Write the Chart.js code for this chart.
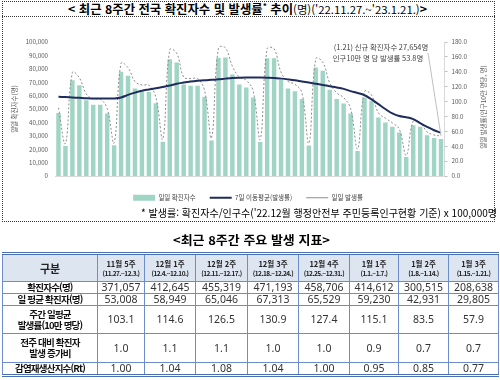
<!DOCTYPE html>
<html lang="ko">
<head>
<meta charset="utf-8">
<script src="https://cdn.jsdelivr.net/npm/chart.js@4.4.0/dist/chart.umd.min.js"></script>
<style>
  body { margin:0; width:500px; height:380px; background:#fff; position:relative; overflow:hidden;
         font-family:"Noto Sans CJK KR", "Noto Sans", sans-serif; color:#000; }
  #marco { position:absolute; left:2px; top:1px; width:491px; height:219px; border:1px dotted #333; }
  #separador { position:absolute; left:2px; top:16px; width:493px; border-top:1px dotted #333; }
  .ajustable { position:absolute; white-space:nowrap; transform-origin:0 0; }
  #titulo { top:1px; font-size:12px; line-height:15px; font-weight:bold; }
  #titulo .fino { font-weight:normal; font-size:11px; }
  #titulo sup { font-size:8px; vertical-align:5px; line-height:0; }
  #contenedor { position:absolute; left:3px; top:17px; width:490px; height:194px; }
  #nota { top:206px; font-size:10.5px; line-height:14px; }
  #tituloTabla { top:232px; font-size:12px; line-height:16px; font-weight:bold; }
  #tabla { position:absolute; left:2px; top:252px; width:496px; border-collapse:collapse; table-layout:fixed;
           border-top:3px double #4a6fb5; border-bottom:3px double #4a6fb5; }
  #tabla td { border:1px solid #6d8ccb; padding:0; text-align:center; vertical-align:middle;
              font-family:"Noto Sans", sans-serif; font-size:10.5px; color:#333; line-height:11px; white-space:nowrap; }
  #tabla td.rotulo { font-family:"Noto Sans CJK KR", sans-serif; font-weight:bold; color:#111; font-size:9.5px; letter-spacing:-0.8px; }
  #tabla tr.cabecera td { background:#dde5f0; font-family:"Noto Sans CJK KR", sans-serif; font-weight:bold; color:#222; }
  #tabla tr.cabecera td .semana { font-size:7.5px; line-height:10px; display:block; }
  #tabla tr.cabecera td .periodo { font-size:6.5px; line-height:9px; display:block; letter-spacing:-0.5px; }
  #tabla tr.cabecera td.rotulo { font-size:11px; letter-spacing:0; }
  #tabla tr:nth-child(1) { height:28px; }
  #tabla tr:nth-child(2) { height:11px; }
  #tabla tr:nth-child(3) { height:12px; }
  #tabla tr:nth-child(4) { height:28px; }
  #tabla tr:nth-child(5) { height:29px; }
  #tabla tr:nth-child(6) { height:13px; }
</style>
</head>
<body>
<div id="marco"></div>
<div id="separador"></div>
<div id="titulo" class="ajustable">&lt; 최근 8주간 전국 확진자수 및 발생률<sup>*</sup> 추이<span class="fino">(명)('22.11.27.~'23.1.21.)</span>&gt;</div>
<div id="contenedor"><canvas id="grafico" width="490" height="194"></canvas></div>
<div id="nota" class="ajustable">* 발생률: 확진자수/인구수('22.12월 행정안전부 주민등록인구현황 기준) x 100,000명</div>
<div id="tituloTabla" class="ajustable">&lt;최근 8주간 주요 발생 지표&gt;</div>
<table id="tabla">
  <colgroup>
    <col style="width:95px"><col style="width:47px"><col style="width:51px"><col style="width:52px">
    <col style="width:51px"><col style="width:51px"><col style="width:49px"><col style="width:50px"><col style="width:50px">
  </colgroup>
  <tbody id="cuerpoTabla"></tbody>
</table>
<script>
// datos del gráfico (11/27 ~ 1/21)
const fechas = ["11/27","11/28","11/29","11/30","12/1","12/2","12/3","12/4","12/5","12/6","12/7","12/8","12/9","12/10",
  "12/11","12/12","12/13","12/14","12/15","12/16","12/17","12/18","12/19","12/20","12/21","12/22","12/23","12/24",
  "12/25","12/26","12/27","12/28","12/29","12/30","12/31","1/1","1/2","1/3","1/4","1/5","1/6","1/7",
  "1/8","1/9","1/10","1/11","1/12","1/13","1/14","1/15","1/16","1/17","1/18","1/19","1/20","1/21"];
const etiquetasEje = ["11/27","12/2","12/7","12/12","12/17","12/22","12/27","1/1","1/6","1/11","1/16","1/21"];

const casosDiarios = [47100, 22400, 71500, 67800, 56600, 53100, 53100,
  46600, 22900, 77800, 74800, 65300, 62800, 62700,
  54300, 25600, 87200, 84700, 68300, 67300, 67300,
  59100, 26400, 88300, 88500, 75800, 68300, 66100,
  58500, 25400, 87800, 87800, 71600, 65300, 63300,
  57400, 22700, 81000, 78600, 64300, 57400, 54100,
  46600, 18700, 58400, 55900, 43600, 39900, 36700,
  32400, 14200, 37900, 36700, 30500, 28300, 27654];

const mediaMovil = [106.4, 106.0, 105.5, 105.0, 104.5, 104.2, 104.0,
  104.0, 104.1, 105.5, 109.0, 112.0, 114.5, 116.3,
  118.0, 119.5, 121.5, 124.0, 125.5, 126.8, 127.8,
  128.6, 129.2, 129.8, 130.8, 131.6, 132.0, 132.2,
  132.2, 132.2, 132.0, 131.6, 130.8, 129.8, 128.6,
  127.0, 125.5, 124.0, 122.3, 120.6, 119.0, 117.0,
  114.0, 111.5, 108.5, 103.0, 96.5, 90.0, 84.0,
  80.5, 79.0, 76.5, 71.0, 66.0, 61.5, 58.0];

const tasaDiaria = [91.6, 43.6, 139.1, 131.9, 110.1, 103.3, 103.3,
  90.7, 44.6, 151.4, 145.5, 127.0, 122.2, 122.0,
  105.6, 49.8, 169.6, 164.8, 132.9, 130.9, 130.9,
  115.0, 51.4, 171.8, 172.2, 147.5, 132.9, 128.6,
  113.8, 49.4, 170.8, 170.8, 139.3, 127.0, 123.2,
  111.7, 44.2, 157.6, 152.9, 125.1, 111.7, 105.3,
  90.7, 36.4, 113.6, 108.8, 84.8, 77.6, 71.4,
  63.0, 27.6, 73.7, 71.4, 59.3, 55.1, 53.8];

const nombresSeries = ["일일 확진자수", "7일 이동평균(발생률)", "일일 발생률"];
const tituloIzquierdo = "일일 확진자수(명)";
const tituloDerecho = "일일 발생률(인구10만 명당, 명)";
const notaLinea1 = "(1.21) 신규 확진자수 27,654명";
const notaLinea2 = "인구10만 명 당 발생률 53.8명";

// datos de la tabla
const semanas = ["11월 5주","12월 1주","12월 2주","12월 3주","12월 4주","1월 1주","1월 2주","1월 3주"];
const periodos = ["(11.27.~12.3.)","(12.4.~12.10.)","(12.11.~12.17.)","(12.18.~12.24.)","(12.25.~12.31.)","(1.1.~1.7.)","(1.8.~1.14.)","(1.15.~1.21.)"];
const confirmadosSemana = ["371,057","412,645","455,319","471,193","458,706","414,612","300,515","208,638"];
const promedioDiario = ["53,008","58,949","65,046","67,313","65,529","59,230","42,931","29,805"];
const tasaSemanal = ["103.1","114.6","126.5","130.9","127.4","115.1","83.5","57.9"];
const razonAumento = ["1.0","1.1","1.1","1.0","1.0","0.9","0.7","0.7"];
const rt = ["1.00","1.04","1.08","1.04","1.00","0.95","0.85","0.77"];
const rotulos = ["확진자수(명)", "일 평균 확진자(명)", "주간 일평균<br>발생률(10만 명당)", "전주 대비 확진자<br>발생 증가비", "감염재생산지수(Rt)"];

function construirTabla() {
  const cuerpo = document.getElementById("cuerpoTabla");
  let html = '<tr class="cabecera"><td class="rotulo">구분</td>';
  semanas.forEach((s, i) => {
    html += `<td><span class="semana">${s}</span><span class="periodo">${periodos[i]}</span></td>`;
  });
  html += "</tr>";
  [confirmadosSemana, promedioDiario, tasaSemanal, razonAumento, rt].forEach((fila, i) => {
    html += `<tr><td class="rotulo">${rotulos[i]}</td>`;
    fila.forEach((v) => { html += `<td>${v}</td>`; });
    html += "</tr>";
  });
  cuerpo.innerHTML = html;
}
construirTabla();

function ajustar(id, izquierda, ancho) {
  const el = document.getElementById(id);
  el.style.transform = "none";
  const natural = el.getBoundingClientRect().width;
  el.style.left = izquierda + "px";
  el.style.transform = `scaleX(${ancho / natural})`;
}
function ajustarTextos() {
  ajustar("titulo", 68, 359);
  ajustar("nota", 141, 356);
  ajustar("tituloTabla", 173, 157);
}
ajustarTextos();
document.fonts.ready.then(ajustarTextos);

Chart.defaults.font.family = "'Noto Sans CJK KR', 'Noto Sans', sans-serif";
Chart.defaults.color = "#595959";

const anotaciones = {
  id: "anotaciones",
  afterDraw(chart) {
    const { ctx, scales } = chart;
    const ultimo = fechas.length - 1;
    const xFin = scales.x.getPixelForValue(ultimo);
    const yFin = scales.y1.getPixelForValue(tasaDiaria[ultimo]);
    ctx.save();
    ctx.strokeStyle = "#bfbfbf";
    ctx.lineWidth = 1;
    ctx.beginPath();
    ctx.moveTo(425, 36);
    ctx.lineTo(xFin, yFin);
    ctx.stroke();
    ctx.fillStyle = "#404040";
    ctx.font = "7.4px 'Noto Sans CJK KR'";
    ctx.textAlign = "center";
    ctx.textBaseline = "middle";
    ctx.fillText(notaLinea1, 378, 30);
    ctx.fillText(notaLinea2, 375, 41);
    ctx.fillStyle = "#595959";
    ctx.font = "6.5px 'Noto Sans CJK KR'";
    ctx.translate(481, 90);
    ctx.rotate(-Math.PI / 2);
    ctx.fillText(tituloDerecho, 0, 0);
    ctx.restore();
  },
};

const ctx = document.getElementById("grafico").getContext("2d");
new Chart(ctx, {
  data: {
    labels: fechas,
    datasets: [
      {
        type: "bar",
        label: nombresSeries[0],
        data: casosDiarios,
        yAxisID: "y",
        backgroundColor: "#a0d4c4",
        borderWidth: 0,
        barPercentage: 0.64,
        categoryPercentage: 1,
        pointStyle: "rect",
        order: 3,
      },
      {
        type: "line",
        label: nombresSeries[1],
        data: mediaMovil,
        yAxisID: "y1",
        borderColor: "#1f2d5e",
        backgroundColor: "#1f2d5e",
        borderWidth: 2,
        pointRadius: 0,
        tension: 0.4,
        pointStyle: "line",
        order: 1,
      },
      {
        type: "line",
        label: nombresSeries[2],
        data: tasaDiaria,
        yAxisID: "y1",
        borderColor: "#8c8c8c",
        backgroundColor: "#8c8c8c",
        borderWidth: 1,
        borderDash: [2, 2],
        pointRadius: 0,
        tension: 0.4,
        pointStyle: "line",
        order: 2,
      },
    ],
  },
  options: {
    responsive: false,
    animation: false,
    layout: { padding: { top: 25, left: 0, right: 0, bottom: 0 } },
    plugins: {
      tooltip: { enabled: false },
      legend: {
        position: "bottom",
        labels: {
          usePointStyle: true,
          pointStyleWidth: 22,
          boxHeight: 6,
          padding: 14,
          color: "#404040",
          font: { size: 6.5 },
          sort: (a, b) => a.datasetIndex - b.datasetIndex,
        },
      },
    },
    scales: {
      x: {
        offset: true,
        grid: { display: false, drawTicks: false },
        border: { display: true, color: "#d9d9d9" },
        ticks: {
          autoSkip: false,
          maxRotation: 0,
          padding: 4,
          font: { size: 6.2 },
          callback: function (valor) {
            const etiqueta = this.getLabelForValue(valor);
            return etiquetasEje.includes(etiqueta) ? etiqueta : "";
          },
        },
        // la leyenda ya deja hueco; el eje casi no necesita alto propio
        afterFit: (escala) => { escala.height = 4.5; },
      },
      y: {
        position: "left",
        min: 0,
        max: 100000,
        grid: { display: false, drawTicks: false },
        border: { display: false },
        ticks: {
          stepSize: 10000,
          padding: 7,
          font: { size: 6.2 },
          callback: (v) => v.toLocaleString("en-US"),
        },
        title: { display: true, text: tituloIzquierdo, font: { size: 6.5 }, padding: { top: 8, bottom: 0 } },
        afterFit: (escala) => { escala.width = 52; },
      },
      y1: {
        position: "right",
        min: 0,
        max: 180,
        grid: { drawOnChartArea: false, drawTicks: true, tickLength: 3, color: "#bfbfbf" },
        border: { display: true, color: "#d9d9d9" },
        ticks: {
          stepSize: 20,
          padding: 4,
          font: { size: 6.2 },
          callback: (v) => v.toFixed(1),
        },
        afterFit: (escala) => { escala.width = 48.5; },
      },
    },
  },
  plugins: [anotaciones],
});
</script>
</body>
</html>
